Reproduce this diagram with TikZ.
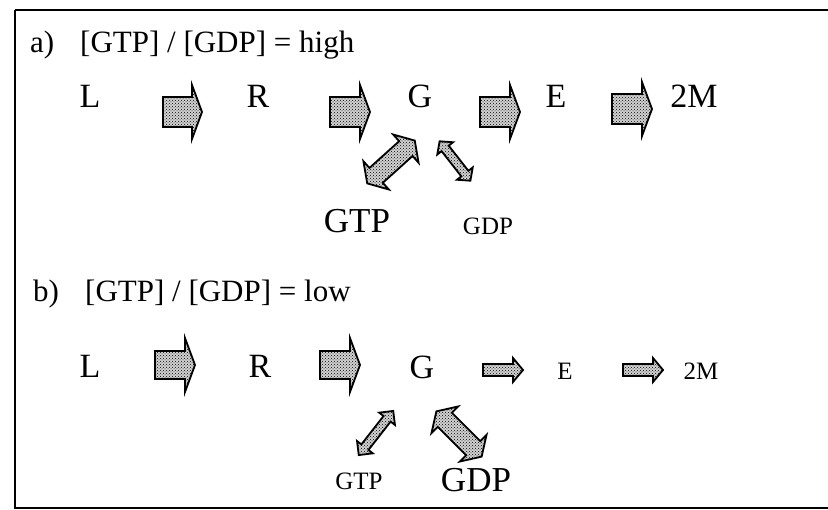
\documentclass[tikz,border=0pt]{standalone}
\usepackage{fontspec}
\setmainfont{Liberation Serif}
\usetikzlibrary{patterns}
\tikzset{
  frame/.style={line width=2pt},
  blk/.style={line width=1.8pt, line join=miter, draw=black, preaction={fill=gray!35}, pattern=crosshatch dots, pattern color=black},
  big/.style={font=\fontsize{34}{34}\selectfont, anchor=base, inner sep=0pt},
  bigl/.style={font=\fontsize{35}{35}\selectfont, anchor=base, inner sep=0pt},
  lbl/.style={font=\fontsize{31}{31}\selectfont, anchor=base west, inner sep=0pt},
  small/.style={font=\fontsize{25}{25}\selectfont, anchor=base, inner sep=0pt},
}
% right block arrow: x0, yc, x1 (end of body), tip x, body half, head half
\newcommand\RArr[6]{%
  \path[blk] (#1,#2-#5) -- (#3,#2-#5) -- (#3,#2-#6) -- (#4,#2) -- (#3,#2+#6) -- (#3,#2+#5) -- (#1,#2+#5) -- cycle;}
% double block arrow: cx, cy, angle, half length, head length, body half, head half
\newcommand\DArr[7]{%
  \begin{scope}[shift={(#1,#2)}, rotate=#3]
  \path[blk] (-#4,0) -- (-#4+#5,#7) -- (-#4+#5,#6) -- (#4-#5,#6) -- (#4-#5,#7) -- (#4,0)
     -- (#4-#5,-#7) -- (#4-#5,-#6) -- (-#4+#5,-#6) -- (-#4+#5,-#7) -- cycle;
  \end{scope}}
\begin{document}
\begin{tikzpicture}[x=1pt,y=-1pt]
\useasboundingbox (0,0) rectangle (828,510);
\clip (0,0) rectangle (828,510);
\draw[frame] (15,10) -- (840,10) (15,10) -- (15,508) -- (840,508);

% ---- a) ----
\node[lbl] (la) at (30,53) {a)};
\node[lbl] (lat) at (80,53) {[GTP] / [GDP] = high};
\node[big] (L1) at (90,108) {L};
\node[big] (R1) at (258,108) {R};
\node[big] (G1) at (420,108) {G};
\node[big] (E1) at (556,108) {E};
\node[big] (M1) at (694,108) {2M};
\node[bigl] (T1) at (357,233) {GTP};
\node[small] (D1) at (488,235) {GDP};
\RArr{163}{112}{192}{202}{15}{27}
\RArr{330}{112}{360}{370}{15}{27}
\RArr{480}{112}{510}{520}{15}{27}
\RArr{612}{109}{642}{652}{15}{27}
\DArr{391}{162}{42}{32}{12}{10}{19}
\DArr{455}{161}{-52}{25}{9}{4.5}{10}

% ---- b) ----
\node[lbl] (lb) at (33,302) {b)};
\node[lbl] (lbt) at (85,302) {[GTP] / [GDP] = low};
\node[big] (L2) at (90,378) {L};
\node[big] (R2) at (260,378) {R};
\node[big] (G2) at (422,379) {G};
\node[small] (E2) at (565,380) {E};
\node[small] (M2) at (701,380) {2M};
\node[small] (T2) at (359,490) {GTP};
\node[bigl] (D2) at (476,492) {GDP};
\RArr{155}{365}{185}{195}{14}{27}
\RArr{320}{365}{350}{360}{14}{27}
\RArr{483}{370}{513}{523}{6}{12}
\RArr{623}{370}{653}{663}{6}{12}
\DArr{376}{433}{52}{28}{10}{4.5}{10}
\DArr{459}{434}{-45}{32}{12}{10}{19}
\end{tikzpicture}
\end{document}
